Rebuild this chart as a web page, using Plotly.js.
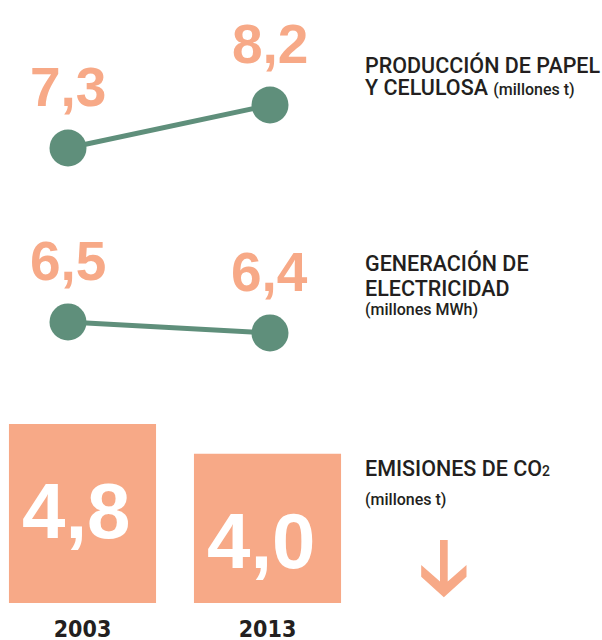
<!DOCTYPE html>
<html>
<head>
<meta charset="utf-8">
<script src="https://cdn.plot.ly/plotly-3.0.1.min.js"></script>
<style>
  html, body { margin: 0; padding: 0; background: #fff; }
  #chart { width: 602px; height: 640px; }
</style>
</head>
<body>
<div id="chart"></div>
<script>
// data
const years = ['2003', '2013'];
const produccion = [7.3, 8.2];   // millones t
const generacion = [6.5, 6.4];   // millones MWh
const emisiones = [4.8, 4.0];    // millones t CO2

const ORANGE = '#f7a987';
const GREEN = '#5f8f7b';
const DARK = '#231f20';
const NUM_FONT = 'Liberation Sans, Arial, sans-serif';
const TXT_FONT = 'Roboto, Liberation Sans, sans-serif';
const YEAR_FONT = 'DejaVu Sans Condensed, DejaVu Sans, sans-serif';

// plot area is 602 x 603 px (bottom margin holds the year labels)
const W = 602, H = 603;
const px = p => p / W;
const py = p => 1 - p / H;

const fmt = v => v.toFixed(1).replace('.', ',');

const lineTrace = (y, yaxis) => ({
    x: years,
    y: y,
    xaxis: 'x',
    yaxis: yaxis,
    type: 'scatter',
    mode: 'lines+markers',
    line: { color: GREEN, width: 5 },
    marker: { color: GREEN, size: 37 },
    cliponaxis: false,
    hoverinfo: 'skip'
});

const data = [
    lineTrace(produccion, 'y'),
    lineTrace(generacion, 'y2'),
    {
        x: years,
        y: emisiones,
        xaxis: 'x2',
        yaxis: 'y3',
        type: 'bar',
        width: 0.795,
        marker: { color: ORANGE },
        hoverinfo: 'skip'
    }
];

const annotations = [];

// value labels over the line points (category axes take the index)
[[produccion, 'y'], [generacion, 'y2']].forEach(([vals, yref]) => {
    vals.forEach((v, i) => {
        annotations.push({
            xref: 'x', yref: yref, x: i, y: v,
            text: '<b>' + fmt(v) + '</b>',
            showarrow: false, yanchor: 'bottom', yshift: 28,
            font: { family: NUM_FONT, size: 55, color: ORANGE }
        });
    });
});

// white numbers inside the squares
emisiones.forEach((v, i) => {
    annotations.push({
        xref: 'x2', yref: 'y3', x: i, y: v,
        text: '<b>' + fmt(v) + '</b>',
        showarrow: false, yanchor: 'top', yshift: -41, xshift: -7,
        font: { family: NUM_FONT, size: 78, color: '#ffffff' }
    });
});

// captions on the right
const small = t => '<span style="font-size:16px">' + t + '</span>';
const captions = [
    ['PRODUCCIÓN DE PAPEL', 64.5],
    ['Y CELULOSA ' + small('(millones t)'), 87.5],
    ['GENERACIÓN DE', 263],
    ['ELECTRICIDAD', 288],
    [small('(millones MWh)'), 309],
    ['EMISIONES DE CO<span style="font-size:14px">2</span>', 468],
    [small('(millones t)'), 499]
];
captions.forEach(([t, y]) => {
    annotations.push({
        xref: 'paper', yref: 'paper', x: px(363), y: py(y),
        xanchor: 'left', yanchor: 'middle',
        text: t, showarrow: false,
        font: { family: TXT_FONT, size: 21.5, color: DARK, weight: 500 }
    });
});

// down arrow (decoration)
const cx = 443.85;
const arrowPts = [
    [440, 540], [447.7, 540], [447.7, 581.4], [466.5, 565], [466.5, 576.7],
    [cx, 597.3], [421.2, 576.7], [421.2, 565], [440, 581.4]
];
const arrowPath = 'M' + arrowPts.map(([x, y]) => px(x) + ',' + py(y)).join(' L') + ' Z';

const hidden = { visible: false, fixedrange: true };

const layout = {
    width: 602,
    height: 640,
    margin: { l: 0, r: 0, t: 0, b: 37 },
    paper_bgcolor: '#ffffff',
    plot_bgcolor: '#ffffff',
    showlegend: false,
    xaxis: Object.assign({ type: 'category', range: [-0.3366, 2.6436], anchor: 'y' }, hidden),
    xaxis2: {
        type: 'category',
        range: [-0.4459, 2.808],
        anchor: 'y3',
        overlaying: 'x',
        showgrid: false, zeroline: false, showline: false,
        ticks: 'outside', ticklen: 5, tickcolor: 'rgba(0,0,0,0)',
        tickfont: { family: YEAR_FONT, size: 23, color: DARK, weight: 'bold' },
        fixedrange: true
    },
    yaxis: Object.assign({ range: [-2.223, 10.398] }, hidden),
    yaxis2: Object.assign({ range: [3.945, 9.427], overlaying: 'y' }, hidden),
    yaxis3: Object.assign({ range: [0, 16.17], overlaying: 'y' }, hidden),
    annotations: annotations,
    shapes: [{
        type: 'path', xref: 'paper', yref: 'paper',
        path: arrowPath,
        fillcolor: ORANGE, line: { width: 0 }
    }]
};

Plotly.newPlot('chart', data, layout, { displayModeBar: false, staticPlot: true });
</script>
</body>
</html>
